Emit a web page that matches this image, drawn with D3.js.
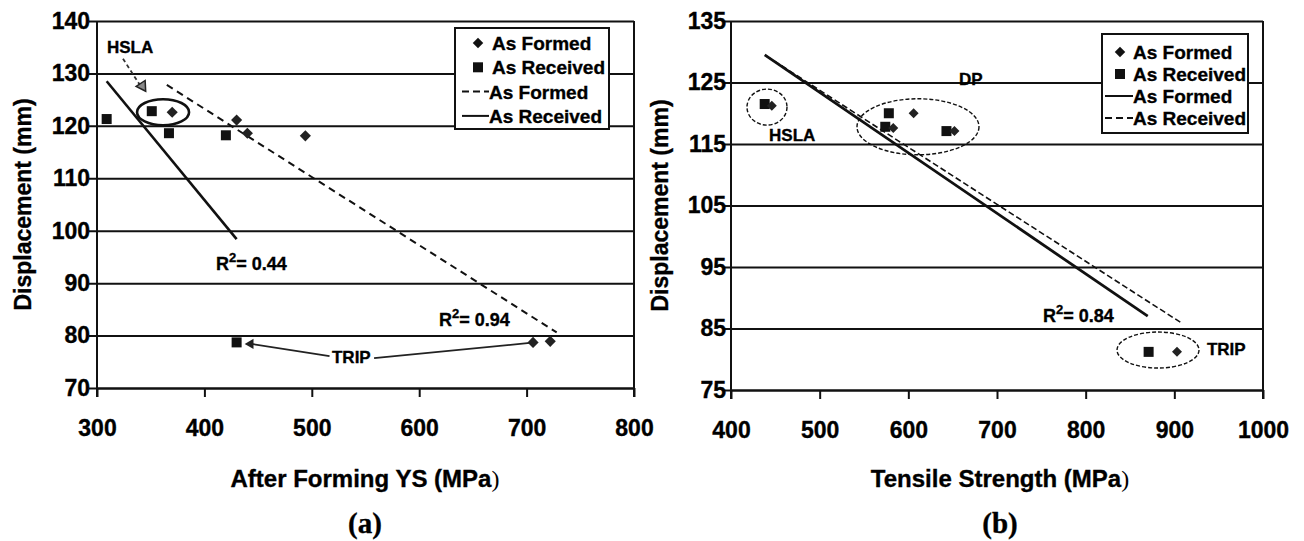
<!DOCTYPE html>
<html>
<head>
<meta charset="utf-8">
<script src="https://cdn.jsdelivr.net/npm/d3@7"></script>
<style>
body { margin: 0; background: #fff; }
text { font-family: "Liberation Sans", Arial, sans-serif; font-weight: bold; fill: #000; stroke: #000; stroke-width: 0.35px; }
</style>
</head>
<body>
<div id="chart"></div>
<script>
var svgWidth = 1304;
var svgHeight = 541;

// ---- panel (a) data: displacement vs after forming YS ----
var aXTicks = [300, 400, 500, 600, 700, 800];
var aYTicks = [70, 80, 90, 100, 110, 120, 130, 140];
var aFormedYS = [370, 430, 440, 494, 706, 722];
var aFormedDisp = [122.6, 121.1, 118.6, 118.1, 78.7, 78.9];
var aReceivedYS = [309, 351, 367, 420, 430];
var aReceivedDisp = [121.3, 122.8, 118.6, 118.2, 78.7];
// trendline end points
var aFormedFitX = [365, 728];
var aFormedFitY = [127.8, 80.6];
var aReceivedFitX = [309, 430];
var aReceivedFitY = [128.5, 98.4];

// ---- panel (b) data: displacement vs tensile strength ----
var bXTicks = [400, 500, 600, 700, 800, 900, 1000];
var bYTicks = [75, 85, 95, 105, 115, 125, 135];
var bFormedTS = [446, 583, 606, 652, 903];
var bFormedDisp = [121.2, 117.6, 120.0, 117.1, 81.2];
var bReceivedTS = [438, 574, 578, 643, 871];
var bReceivedDisp = [121.5, 117.8, 120.0, 117.1, 81.2];
var bFormedFitX = [438, 870];
var bFormedFitY = [129.5, 87.0];
var bReceivedFitX = [440, 907];
var bReceivedFitY = [129.3, 86.0];

var svg = d3.select("#chart")
    .append("svg")
    .attr("width", svgWidth)
    .attr("height", svgHeight);

svg.append("rect").attr("width", svgWidth).attr("height", svgHeight).attr("fill", "#fff");

// draws frame, grid, axes, titles for one panel; returns scales
function drawPanel(opt) {
    var x = d3.scaleLinear().domain(opt.xDomain).range(opt.xRange);
    var y = d3.scaleLinear().domain(opt.yDomain).range(opt.yRange);
    var g = svg.append("g");

    // horizontal gridlines, with little ticks poking out left
    var yAxis = d3.axisLeft(y)
        .tickValues(opt.yTicks)
        .tickFormat(d3.format("d"))
        .tickSizeInner(-(opt.xRange[1] - opt.xRange[0]))
        .tickSizeOuter(0)
        .tickPadding(opt.yPad);
    var yg = g.append("g")
        .attr("transform", `translate(${opt.xRange[0]},0)`)
        .call(yAxis);
    yg.select(".domain").remove();
    yg.selectAll("line").attr("x1", -8).attr("stroke", "#111").attr("stroke-width", 2);
    yg.selectAll("text").attr("font-size", 23);

    var xAxis = d3.axisBottom(x)
        .tickValues(opt.xTicks)
        .tickFormat(d3.format("d"))
        .tickSizeInner(9)
        .tickSizeOuter(0)
        .tickPadding(23);
    var xg = g.append("g")
        .attr("transform", `translate(0,${opt.yRange[0]})`)
        .call(xAxis);
    xg.select(".domain").attr("stroke", "#111").attr("stroke-width", 2);
    xg.selectAll("line").attr("stroke", "#111").attr("stroke-width", 2);
    xg.selectAll("text").attr("font-size", 23);

    // left axis line and right border
    g.append("line")
        .attr("x1", opt.xRange[0]).attr("x2", opt.xRange[0])
        .attr("y1", opt.yRange[1]).attr("y2", opt.yRange[0] + 9)
        .attr("stroke", "#111").attr("stroke-width", 2);
    g.append("line")
        .attr("x1", opt.xRange[1]).attr("x2", opt.xRange[1])
        .attr("y1", opt.yRange[1]).attr("y2", opt.yRange[0] + 9)
        .attr("stroke", "#111").attr("stroke-width", 2);

    // y title
    g.append("text")
        .attr("transform", `translate(${opt.yTitleX},${(opt.yRange[0] + opt.yRange[1]) / 2}) rotate(-90)`)
        .attr("text-anchor", "middle")
        .attr("font-size", 23)
        .text("Displacement (mm)");

    // x title, closing bracket is in a lighter serif face like the original
    var xt = g.append("text")
        .attr("x", opt.xTitleX)
        .attr("y", 487)
        .attr("text-anchor", "middle")
        .attr("font-size", 24);
    xt.append("tspan").text(opt.xTitle + " (MPa");
    xt.append("tspan")
        .style("font-family", "Liberation Serif, Times New Roman, serif")
        .style("font-weight", "normal")
        .style("stroke-width", 0)
        .text(")");

    // panel letter
    g.append("text")
        .attr("x", opt.xTitleX)
        .attr("y", 533)
        .attr("text-anchor", "middle")
        .attr("font-size", 29)
        .style("font-family", "Liberation Serif, Times New Roman, serif")
        .text(opt.letter);

    return { x: x, y: y, g: g };
}

function zip(xs, ys) {
    return xs.map((v, i) => ({ x: v, y: ys[i] }));
}

function drawLine(p, xs, ys, dash, width) {
    p.g.append("line")
        .attr("x1", p.x(xs[0])).attr("y1", p.y(ys[0]))
        .attr("x2", p.x(xs[1])).attr("y2", p.y(ys[1]))
        .attr("stroke", "#111")
        .attr("stroke-width", width)
        .attr("stroke-dasharray", dash);
}

function drawSquares(p, data, side) {
    p.g.selectAll(null)
        .data(data)
        .enter()
        .append("rect")
        .attr("x", d => p.x(d.x) - side / 2)
        .attr("y", d => p.y(d.y) - side / 2)
        .attr("width", side)
        .attr("height", side)
        .attr("fill", "#111");
}

function drawDiamonds(p, data, size) {
    p.g.selectAll(null)
        .data(data)
        .enter()
        .append("path")
        .attr("d", d3.symbol(d3.symbolSquare, size))
        .attr("transform", d => `translate(${p.x(d.x)},${p.y(d.y)}) rotate(45)`)
        .attr("fill", "#222");
}

function drawR2(p, x, y, value) {
    var t = p.g.append("text")
        .attr("x", p.x(x)).attr("y", p.y(y))
        .attr("font-size", 18);
    t.append("tspan").text("R");
    t.append("tspan").attr("dy", -8).attr("font-size", 13).text("2");
    t.append("tspan").attr("dy", 8).text("= " + value);
}

function drawLabel(p, x, y, txt, size) {
    p.g.append("text")
        .attr("x", p.x(x)).attr("y", p.y(y))
        .attr("font-size", size)
        .text(txt);
}

function drawEllipse(p, x, y, rx, ry, dash, width) {
    p.g.append("ellipse")
        .attr("cx", p.x(x)).attr("cy", p.y(y))
        .attr("rx", rx).attr("ry", ry)
        .attr("fill", "none")
        .attr("stroke", "#111")
        .attr("stroke-width", width)
        .attr("stroke-dasharray", dash);
}

function drawLegend(p, box, items) {
    p.g.append("rect")
        .attr("x", box.x).attr("y", box.y)
        .attr("width", box.w).attr("height", box.h)
        .attr("fill", "#fff")
        .attr("stroke", "#111")
        .attr("stroke-width", 2);
    items.forEach(function(it, i) {
        var cy = box.y + box.first + i * box.step;
        if (it.kind === "diamond") {
            p.g.append("path")
                .attr("d", d3.symbol(d3.symbolSquare, 55))
                .attr("transform", `translate(${box.markX},${cy}) rotate(45)`)
                .attr("fill", "#111");
        } else if (it.kind === "square") {
            p.g.append("rect")
                .attr("x", box.markX - 5).attr("y", cy - 5)
                .attr("width", 10).attr("height", 10)
                .attr("fill", "#111");
        } else {
            p.g.append("line")
                .attr("x1", box.lineX0).attr("x2", box.lineX1)
                .attr("y1", cy).attr("y2", cy)
                .attr("stroke", "#111")
                .attr("stroke-width", 2)
                .attr("stroke-dasharray", it.kind === "dash" ? "7,4" : null);
        }
        p.g.append("text")
            .attr("x", it.kind === "diamond" || it.kind === "square" ? box.textX : box.lineX1)
            .attr("y", cy + 7)
            .attr("font-size", 19)
            .text(it.label);
    });
}

// ================= panel (a) =================
var pa = drawPanel({
    xDomain: [300, 800], xRange: [97, 634],
    yDomain: [70, 140], yRange: [388, 21],
    xTicks: aXTicks, yTicks: aYTicks, yPad: 7,
    yTitleX: 31, xTitleX: 365,
    xTitle: "After Forming YS", letter: "(a)"
});

drawLine(pa, aFormedFitX, aFormedFitY, "7,5", 2);
drawLine(pa, aReceivedFitX, aReceivedFitY, null, 2.6);
drawSquares(pa, zip(aReceivedYS, aReceivedDisp), 10);
drawDiamonds(pa, zip(aFormedYS, aFormedDisp), 62);

// HSLA group
drawEllipse(pa, 361.5, 122.6, 26, 13, null, 2.6);
drawLabel(pa, 309.3, 133.9, "HSLA", 17);
pa.g.append("line")
    .attr("x1", pa.x(324.2)).attr("y1", pa.y(132.8))
    .attr("x2", pa.x(341.5)).attr("y2", pa.y(127.3))
    .attr("stroke", "#333").attr("stroke-width", 1.8)
    .attr("stroke-dasharray", "4,3");
pa.g.append("path")
    .attr("d", d3.symbol(d3.symbolTriangle, 50))
    .attr("transform", `translate(${pa.x(342.2)},${pa.y(127.6)}) rotate(147)`)
    .attr("fill", "#888").attr("stroke", "#222").attr("stroke-width", 1.5);

// TRIP callout
drawLabel(pa, 518.8, 74.8, "TRIP", 17);
pa.g.append("line")
    .attr("x1", pa.x(516.5)).attr("y1", pa.y(76.1))
    .attr("x2", pa.x(444)).attr("y2", pa.y(78.4))
    .attr("stroke", "#222").attr("stroke-width", 1.8);
pa.g.append("path")
    .attr("d", d3.symbol(d3.symbolTriangle, 45))
    .attr("transform", `translate(${pa.x(443)},${pa.y(78.4)}) rotate(-90)`)
    .attr("fill", "#222");
pa.g.append("line")
    .attr("x1", pa.x(558)).attr("y1", pa.y(75.7))
    .attr("x2", pa.x(703)).attr("y2", pa.y(78.6))
    .attr("stroke", "#222").attr("stroke-width", 1.8);

drawR2(pa, 410.8, 92.5, "0.44");
drawR2(pa, 618.4, 81.8, "0.94");

drawLegend(pa, { x: 455, y: 28, w: 154, h: 101, first: 15, step: 24.3, markX: 478, textX: 492, lineX0: 462, lineX1: 489 }, [
    { kind: "diamond", label: "As Formed" },
    { kind: "square", label: "As Received" },
    { kind: "dash", label: "As Formed" },
    { kind: "solid", label: "As Received" }
]);

// ================= panel (b) =================
var pb = drawPanel({
    xDomain: [400, 1000], xRange: [731, 1263],
    yDomain: [75, 135], yRange: [390, 21],
    xTicks: bXTicks, yTicks: bYTicks, yPad: 5,
    yTitleX: 668, xTitleX: 1000,
    xTitle: "Tensile Strength", letter: "(b)"
});

drawLine(pb, bReceivedFitX, bReceivedFitY, "6,3", 1.6);
drawLine(pb, bFormedFitX, bFormedFitY, null, 2.8);
drawSquares(pb, zip(bReceivedTS, bReceivedDisp), 10);
drawDiamonds(pb, zip(bFormedTS, bFormedDisp), 50);

drawEllipse(pb, 440.6, 121.0, 20, 18, "4,2", 1.4);
drawEllipse(pb, 610.9, 117.8, 61, 28, "4,2", 1.4);
drawEllipse(pb, 881.6, 81.5, 41, 18, "4,2", 1.4);
drawLabel(pb, 442.9, 115.5, "HSLA", 17);
drawLabel(pb, 657.1, 124.6, "DP", 17);
drawLabel(pb, 936.8, 80.7, "TRIP", 17);
drawR2(pb, 751.9, 86.1, "0.84");

drawLegend(pb, { x: 1102, y: 34, w: 146, h: 99, first: 18, step: 22, markX: 1120, textX: 1133, lineX0: 1105, lineX1: 1133 }, [
    { kind: "diamond", label: "As Formed" },
    { kind: "square", label: "As Received" },
    { kind: "solid", label: "As Formed" },
    { kind: "dash", label: "As Received" }
]);
</script>
</body>
</html>
